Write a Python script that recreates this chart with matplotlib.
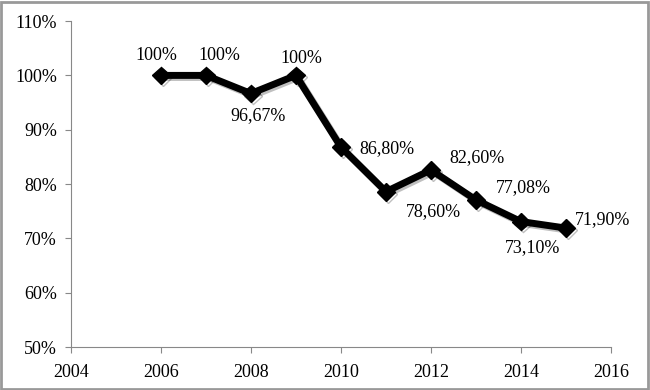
import matplotlib.pyplot as plt
import matplotlib.patheffects as pe
from matplotlib.patches import Rectangle

years = [2006, 2007, 2008, 2009, 2010, 2011, 2012, 2013, 2014, 2015]
values = [100, 100, 96.67, 100, 86.80, 78.60, 82.60, 77.08, 73.10, 71.90]
labels = ['100%', '100%', '96,67%', '100%', '86,80%', '78,60%', '82,60%', '77,08%', '73,10%', '71,90%']
# offsets in points for each data label (dx, dy)
offsets = [(-3, 14), (10, 14), (5, -16), (4, 12), (33, -1), (34, -14), (33, 9), (34, 9), (8, -19), (26, 6)]

plt.rcParams['font.family'] = ['Liberation Serif', 'DejaVu Serif']

fig = plt.figure(figsize=(6.5, 3.9), dpi=100)
ax = fig.add_axes([0.109, 0.110, 0.831, 0.836])

ax.plot(years, values, color='black', lw=5, marker='D', ms=9,
        path_effects=[pe.SimpleLineShadow(offset=(1.5, -1.5), alpha=0.25), pe.Normal()])

for x, y, t, (dx, dy) in zip(years, values, labels, offsets):
    ax.annotate(t, (x, y), xytext=(dx, dy), textcoords='offset points',
                ha='center', va='center', fontsize=13)

ax.set_xlim(2004, 2016)
ax.set_ylim(50, 110)
ax.set_xticks(range(2004, 2017, 2))
ax.set_yticks(range(50, 111, 10))
ax.set_yticklabels([f'{v}%' for v in range(50, 111, 10)])
ax.tick_params(labelsize=13, color='#888888', length=4, direction='out')
ax.tick_params(axis='x', pad=8)
ax.tick_params(axis='y', pad=6)
for s in ['top', 'right']:
    ax.spines[s].set_visible(False)
for s in ['left', 'bottom']:
    ax.spines[s].set_color('#888888')

fig.patches.append(Rectangle((0.002, 0.003), 0.995, 0.993, transform=fig.transFigure,
                             fill=False, edgecolor='#999999', lw=2))

fig.savefig('out.png', dpi=100)
